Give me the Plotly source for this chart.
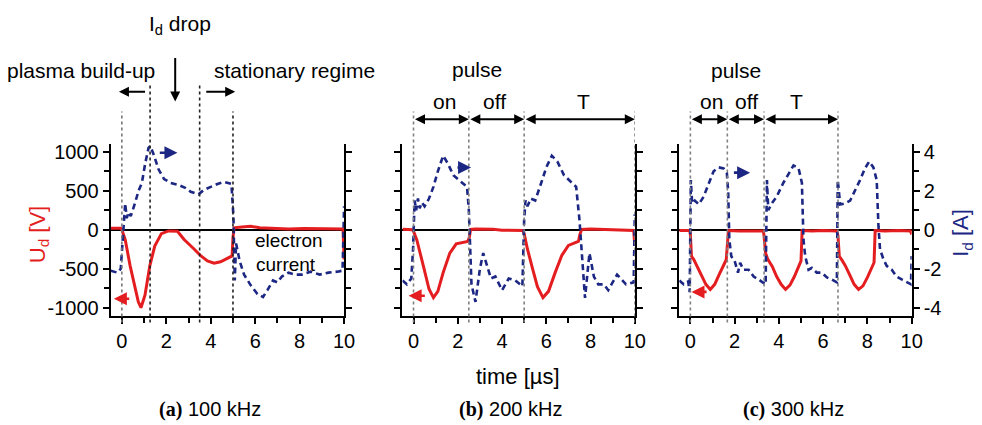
import plotly.graph_objects as go

# ---- discharge voltage U_d [V] and current I_d [A] versus time [us] ----
# (a) 100 kHz
a_t_u = [-0.5, -0.05, 0.0, 0.15, 0.37, 0.59, 0.74, 0.86, 1.04, 1.26,
         1.48, 1.78, 2.1, 2.5, 2.8, 3.26, 3.56, 3.85, 4.15, 4.44,
         4.74, 4.96, 5.0, 5.05, 5.4, 5.8, 6.2, 6.8, 7.5, 8.2,
         9.0, 9.6, 9.95, 10.0]
a_u = [20, 20, 0, -126, -460, -760, -925, -1000, -840, -460,
       -210, -50, -15, -20, -125, -250, -336, -400, -430, -410,
       -370, -336, -100, 25, 35, 45, 25, 15, 10, 15,
       10, 15, 10, -380]
a_t_i = [-0.5, -0.2, -0.05, 0.03, 0.1, 0.15, 0.22, 0.3, 0.4, 0.5,
         0.6, 0.75, 0.9, 1.05, 1.2, 1.28, 1.45, 1.65, 1.9, 2.2,
         2.55, 2.85, 3.1, 3.45, 3.7, 4.0, 4.3, 4.6, 4.93, 5.02,
         5.08, 5.14, 5.2, 5.3, 5.5, 5.8, 6.1, 6.35, 6.55, 6.8,
         7.0, 7.2, 7.5, 7.8, 8.1, 8.5, 8.9, 9.3, 9.7, 9.93,
         10.0]
a_i = [-2.1, -2.2, -2.0, -0.6, 0.9, 1.35, 0.6, 0.9, 0.7, 1.0,
       1.4, 2.0, 2.4, 3.4, 4.2, 4.3, 3.8, 3.1, 2.6, 2.4,
       2.3, 2.15, 1.95, 1.82, 2.05, 2.2, 2.35, 2.45, 2.35, 0.7,
       -2.6, -0.7, -1.0, -1.6, -2.3, -2.85, -3.3, -3.45, -3.1, -2.6,
       -2.7, -2.4, -2.2, -2.3, -2.3, -2.15, -2.3, -2.2, -2.15, -2.1,
       1.2]

# (b) 200 kHz
b_t_u = [-0.5, -0.05, 0.0, 0.15, 0.45, 0.7, 0.9, 1.1, 1.34, 1.64,
         1.93, 2.2, 2.45, 2.52, 2.58, 2.8, 3.2, 3.6, 4.0, 4.5,
         4.95, 5.0, 5.15, 5.4, 5.6, 5.85, 6.1, 6.4, 6.7, 7.0,
         7.3, 7.45, 7.52, 7.6, 8.0, 8.5, 9.0, 9.5, 9.95, 10.0]
b_u = [5, 0, -20, -130, -470, -760, -870, -790, -550, -300,
       -180, -160, -150, -100, 5, 10, 10, 5, -5, -5,
       -10, -50, -250, -520, -730, -870, -790, -550, -330, -200,
       -160, -150, -60, 5, 10, 5, 0, 0, -10, -200]
b_t_i = [-0.5, -0.3, -0.1, -0.02, 0.05, 0.12, 0.2, 0.28, 0.38, 0.5,
         0.7, 0.9, 1.1, 1.34, 1.55, 1.8, 2.0, 2.2, 2.42, 2.5,
         2.56, 2.62, 2.8, 3.0, 3.15, 3.3, 3.5, 3.7, 4.0, 4.3,
         4.6, 4.92, 5.0, 5.06, 5.15, 5.3, 5.5, 5.8, 6.0, 6.25,
         6.5, 6.8, 7.1, 7.35, 7.5, 7.6, 7.75, 7.95, 8.15, 8.35,
         8.6, 8.8, 9.2, 9.6, 9.95, 10.0]
b_i = [-2.6, -2.8, -2.5, -1.0, 1.5, 1.0, 1.6, 1.1, 1.4, 1.2,
       1.6, 2.2, 3.0, 3.8, 3.4, 2.8, 2.6, 2.4, 2.2, 1.0,
       -1.5, -2.8, -3.7, -2.0, -1.2, -1.8, -2.5, -2.4, -3.1, -2.5,
       -2.6, -2.9, 0.5, 1.5, 1.2, 1.6, 1.5, 2.5, 3.2, 3.8,
       3.5, 2.8, 2.5, 2.2, 0.5, -1.3, -3.5, -1.2, -2.4, -2.8,
       -2.8, -3.1, -2.3, -2.8, -2.7, 0.8]

# (c) 300 kHz
c_t_u = [-0.5, -0.03, 0.0, 0.05, 0.15, 0.3, 0.5, 0.7, 0.9, 1.1,
         1.3, 1.5, 1.62, 1.67, 1.72, 2.2, 2.8, 3.3, 3.33, 3.4,
         3.5, 3.7, 3.9, 4.1, 4.3, 4.5, 4.7, 4.9, 5.0, 5.05,
         5.5, 6.0, 6.62, 6.67, 6.73, 6.85, 7.0, 7.2, 7.4, 7.6,
         7.8, 8.0, 8.2, 8.3, 8.35, 8.8, 9.4, 9.95, 10.0]
c_u = [-10, -10, -60, -340, -380, -470, -600, -700, -765, -700,
       -575, -450, -385, -200, -10, -15, -10, -15, -80, -300,
       -380, -470, -600, -700, -765, -710, -600, -470, -400, -10,
       -15, -10, -15, -80, -340, -390, -460, -580, -700, -765,
       -720, -610, -480, -420, -10, -15, -10, -15, -60]
c_t_i = [-0.5, -0.3, -0.1, -0.03, 0.02, 0.08, 0.2, 0.38, 0.6, 0.83,
         1.05, 1.28, 1.5, 1.65, 1.71, 1.76, 1.85, 2.0, 2.15, 2.25,
         2.4, 2.63, 2.86, 3.08, 3.31, 3.4, 3.46, 3.52, 3.68, 3.9,
         4.2, 4.44, 4.66, 4.89, 5.04, 5.11, 5.19, 5.34, 5.49, 5.71,
         5.94, 6.17, 6.39, 6.62, 6.66, 6.77, 6.99, 7.22, 7.44, 7.67,
         7.89, 8.08, 8.27, 8.42, 8.5, 8.57, 8.72, 8.87, 9.1, 9.32,
         9.55, 9.77, 9.97, 10.0]
c_i = [-2.6, -2.8, -2.65, -3.2, 2.55, 1.35, 1.5, 1.3, 1.7, 2.4,
       3.0, 3.2, 3.15, 2.9, 1.9, -0.5, -1.36, -1.6, -2.2, -1.7,
       -2.05, -2.05, -2.4, -2.55, -2.7, -2.8, 2.55, 1.0, 1.35, 1.7,
       2.4, 2.9, 3.3, 3.15, 2.4, -0.5, -1.36, -2.05, -1.95, -2.2,
       -2.2, -2.45, -2.55, -2.7, 2.55, 1.3, 1.35, 1.5, 2.0, 2.55,
       3.15, 3.5, 3.2, 2.55, 0.17, -1.0, -1.5, -1.85, -2.05, -2.4,
       -2.55, -2.7, -2.8, -1.35]

# phase markers (time of pulse edges) per panel
a_marks = [0.0, 1.27, 3.5, 5.0]
b_marks = [0.0, 2.5, 5.0, 10.0]
c_marks = [0.0, 1.67, 3.33, 6.67]

x_ticks = [0, 2, 4, 6, 8, 10]
u_ticks = [-1000, -500, 0, 500, 1000]
u_tick_text = ["-1000", "-500", "0", "500", "1000"]
i_ticks = [-4, -2, 0, 2, 4]
i_tick_text = ["-4", "-2", "0", "2", "4"]
captions = ["100 kHz", "200 kHz", "300 kHz"]
caption_tags = ["(a)", "(b)", "(c)"]

RED = "#e41e20"
BLUE = "#1c2784"
FONT = "Liberation Sans, Arial, sans-serif"
SERIF = "Liberation Serif, Times New Roman, serif"
W, H = 982, 425


def px(x):
    return x / W


def py(y):
    return 1 - y / H


# panel frames in pixels (left, right), shared top/bottom
panels_x = [(112, 348), (407, 642), (687, 922)]
top_px, bot_px = 143, 317

fig = go.Figure()

series = [(a_t_u, a_u, a_t_i, a_i), (b_t_u, b_u, b_t_i, b_i), (c_t_u, c_u, c_t_i, c_i)]
layout_axes = {}
tickfont = dict(family=FONT, size=20, color="black")
for k, ((l, r), (tu, u, ti, i)) in enumerate(zip(panels_x, series)):
    xn = "x" if k == 0 else f"x{k + 1}"
    yv = "y" if k == 0 else f"y{2 * k + 1}"
    yc = f"y{2 * k + 2}"
    fig.add_trace(go.Scatter(x=tu, y=u, xaxis=xn, yaxis=yv, mode="lines",
                             line=dict(color=RED, width=3), showlegend=False))
    fig.add_trace(go.Scatter(x=ti, y=i, xaxis=xn, yaxis=yc, mode="lines",
                             line=dict(color=BLUE, width=2.6, dash="6px,4px"),
                             showlegend=False))
    xkey = "xaxis" if k == 0 else f"xaxis{k + 1}"
    yvkey = "yaxis" if k == 0 else f"yaxis{2 * k + 1}"
    yckey = f"yaxis{2 * k + 2}"
    layout_axes[xkey] = dict(
        domain=[px(l), px(r)], range=[-0.5, 10], anchor=yv,
        showline=True, linecolor="black", linewidth=2, showgrid=False, zeroline=False,
        tickvals=x_ticks, ticks="outside", ticklen=6, tickwidth=2, tickcolor="black",
        minor=dict(dtick=1, tick0=0, ticks="outside", ticklen=5, tickwidth=1.5, tickcolor="black"),
        tickfont=tickfont, fixedrange=True)
    layout_axes[yvkey] = dict(
        domain=[py(bot_px), py(top_px)], range=[-1100, 1100], anchor=xn,
        showline=True, linecolor="black", linewidth=2, showgrid=False,
        zeroline=True, zerolinecolor="black", zerolinewidth=2,
        tickvals=u_ticks, ticktext=u_tick_text, ticks="outside", ticklen=6, tickwidth=2,
        tickcolor="black",
        minor=dict(dtick=250, tick0=0, ticks="outside", ticklen=5, tickwidth=1.5, tickcolor="black"),
        showticklabels=(k == 0), tickfont=tickfont, fixedrange=True)
    layout_axes[yckey] = dict(
        overlaying=yv, side="right", anchor=xn, range=[-4.4, 4.4],
        showline=True, linecolor="black", linewidth=2, showgrid=False, zeroline=False,
        tickvals=i_ticks, ticktext=i_tick_text, ticks="outside", ticklen=6, tickwidth=2,
        tickcolor="black",
        minor=dict(dtick=1, tick0=0, ticks="outside", ticklen=5, tickwidth=1.5, tickcolor="black"),
        showticklabels=(k == 2), tickfont=tickfont, fixedrange=True)

shapes = []
# dotted phase markers, extending above the frames
for t, y_top, col in zip(a_marks, [110, 82, 82, 110], ["#777777", "#222222", "#222222", "#222222"]):
    shapes.append(dict(type="line", xref="x", yref="paper", x0=t, x1=t,
                       y0=py(324), y1=py(y_top), line=dict(color=col, width=1.6, dash="dot")))
for xn, marks in (("x2", b_marks), ("x3", c_marks)):
    for t in marks:
        shapes.append(dict(type="line", xref=xn, yref="paper", x0=t, x1=t,
                           y0=py(324), y1=py(110), line=dict(color="#808080", width=1.6, dash="dot")))

annotations = []


def text(s, x, y, size=21, color="black", angle=0, family=FONT):
    annotations.append(dict(text=s, x=px(x), y=py(y), xref="paper", yref="paper",
                            xanchor="center", yanchor="middle", showarrow=False,
                            textangle=angle, font=dict(family=family, size=size, color=color)))


def span_arrow(xref, head, tail, y, both=False):
    annotations.append(dict(text="", x=head, y=py(y), xref=xref, yref="paper",
                            ax=tail, ay=0, axref=xref, ayref="pixel", showarrow=True,
                            arrowhead=2, arrowsize=1, arrowwidth=2, arrowcolor="black",
                            arrowside="end+start" if both else "end",
                            standoff=0, startstandoff=0, font=dict(size=12)))


def data_arrow(xref, yref, head, tail, y, color):
    annotations.append(dict(text="", x=head, y=y, xref=xref, yref=yref,
                            ax=tail, ay=y, axref=xref, ayref=yref, showarrow=True,
                            arrowhead=2, arrowsize=1, arrowwidth=2.6, arrowcolor=color,
                            standoff=0, font=dict(size=12)))


# (a) regime labels
text("I<sub>d</sub> drop", 182, 22)
text("plasma build-up", 82, 68)
text("stationary regime", 298, 68)
span_arrow("x", -0.13, 1.11, 90)
span_arrow("x", 5.1, 3.73, 90)
annotations.append(dict(text="", x=2.4, y=py(100), xref="x", yref="paper", ax=0, ay=-45,
                        showarrow=True, arrowhead=2, arrowsize=1, arrowwidth=2,
                        arrowcolor="black", standoff=0, font=dict(size=12)))
text("electron", 292, 241, size=19)
text("current", 289, 265, size=19)

# (b) pulse on / off / period
text("pulse", 482, 67)
text("on", 450, 100)
text("off", 500, 100)
text("T", 590, 100)
span_arrow("x2", 2.5, 0.0, 118, both=True)
span_arrow("x2", 5.0, 2.5, 118, both=True)
span_arrow("x2", 10.0, 5.0, 118, both=True)

# (c) pulse on / off / period
text("pulse", 744, 68)
text("on", 720, 100)
text("off", 755, 100)
text("T", 806, 100)
span_arrow("x3", 1.67, 0.0, 118, both=True)
span_arrow("x3", 3.33, 1.67, 118, both=True)
span_arrow("x3", 6.67, 3.33, 118, both=True)

# axis pointers: red -> left voltage axis, blue -> right current axis
data_arrow("x", "y", -0.36, 0.4, -885, RED)
data_arrow("x", "y2", 2.5, 1.64, 3.95, BLUE)
data_arrow("x2", "y3", -0.22, 0.58, -847, RED)
data_arrow("x2", "y4", 2.6, 1.92, 3.19, BLUE)
data_arrow("x3", "y5", 0.05, 0.8, -797, RED)
data_arrow("x3", "y6", 2.7, 1.9, 2.93, BLUE)

# axis titles
text("U<sub>d</sub> [V]", 39, 235, size=22, color=RED, angle=-90)
text("I<sub>d</sub> [A]", 973, 233, size=22, color=BLUE, angle=-90)
text("time [\u00b5s]", 524, 379, size=22)

# sub-figure captions
cap_x = [212, 516, 802]
for tag, cap, cx in zip(caption_tags, captions, cap_x):
    text(f'<span style="font-family:{SERIF}"><b>{tag}</b></span> {cap}', cx, 412, size=20)

fig.update_layout(
    width=W, height=H, margin=dict(l=0, r=0, t=0, b=0),
    paper_bgcolor="white", plot_bgcolor="white",
    shapes=shapes, annotations=annotations, showlegend=False,
    **layout_axes)

fig.write_html("out.html", config={"displayModeBar": False})
